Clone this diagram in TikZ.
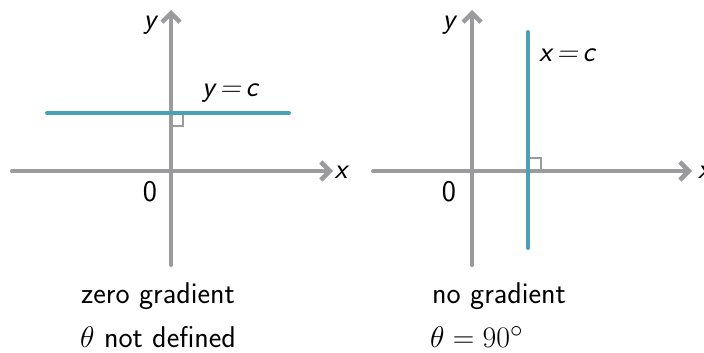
\documentclass[tikz,border=0pt]{standalone}
\usetikzlibrary{arrows.meta}
\definecolor{axisgray}{HTML}{9B9B9D}
\definecolor{lineblue}{HTML}{4A9FB9}
\begin{document}
\begin{tikzpicture}[x=1pt,y=-1pt,
  axis/.style={draw=axisgray,line width=4pt,line cap=round,-{Straight Barb[length=9pt,width=18pt,line width=4.5pt]}},
  cline/.style={draw=lineblue,line width=4pt,line cap=round},
  rmark/.style={draw=axisgray,line width=1.6pt},
  lab/.style={font=\fontsize{30}{34}\selectfont\sffamily,inner sep=0pt},
  ital/.style={font=\fontsize{29}{34}\selectfont\sffamily\itshape,inner sep=0pt}]
\useasboundingbox (0,0) rectangle (704,353);
% left panel
\coordinate (lxs) at (12,171);
\coordinate (lxe) at (333,171);
\coordinate (lys) at (171,265);
\coordinate (lye) at (171,10);
\coordinate (lcs) at (47,113);
\coordinate (lce) at (289,113);
\coordinate (lm1) at (171,126);
\coordinate (lm2) at (183,126);
\coordinate (lm3) at (183,115);
\draw[axis] (lxs) -- (lxe);
\draw[axis] (lys) -- (lye);
\draw[cline] (lcs) -- (lce);
\draw[rmark] (lm1) -- (lm2) -- (lm3);
\node[ital] (ly) at (150,25) {y};
\node[ital] (lx) at (341,172) {x};
\node[lab] (l0) at (150,192) {0};
\node[ital] (lyc) at (230,93) {y\,=\,c};
\node[lab] (lt1) at (158,296) {zero gradient};
\node[lab,anchor=west] (lt2) at (80,337) {\scalebox{1.2}{$\theta$} not defined};
% right panel
\coordinate (rxs) at (373,171);
\coordinate (rxe) at (692,171);
\coordinate (rys) at (472,265);
\coordinate (rye) at (472,10);
\coordinate (rcs) at (528,248);
\coordinate (rce) at (528,32);
\coordinate (rm1) at (530,158);
\coordinate (rm2) at (541,158);
\coordinate (rm3) at (541,171);
\draw[axis] (rxs) -- (rxe);
\draw[axis] (rys) -- (rye);
\draw[cline] (rcs) -- (rce);
\draw[rmark] (rm1) -- (rm2) -- (rm3);
\node[ital] (ry) at (449,25) {y};
\node[ital,anchor=west] (rx) at (698,172) {x};
\node[lab] (r0) at (449,192) {0};
\node[ital,anchor=west] (rxc) at (539,55) {x\,=\,c};
\node[lab,anchor=west] (rt1) at (432,296) {no gradient};
\node[lab,anchor=west] (rt2) at (430,337) {\scalebox{1.2}{$\theta=90^\circ$}};
\end{tikzpicture}
\end{document}
